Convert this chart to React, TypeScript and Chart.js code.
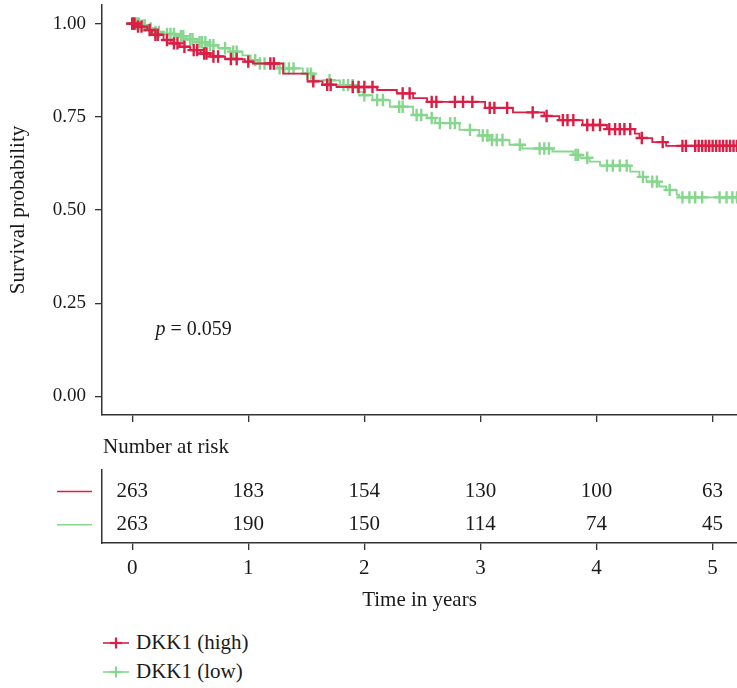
import React, { useEffect, useRef } from 'react';
import { Chart, registerables } from 'chart.js';
Chart.register(...registerables);

// ---------- data ----------
const groupLabels = ['DKK1 (high)', 'DKK1 (low)'];
const highColor = '#DC1E45';
const lowColor = '#86D78E';

const highEventTimes = [0.03, 0.13, 0.17, 0.27, 0.33, 0.41, 0.50, 0.59, 0.67, 0.80, 0.97, 1.04, 1.30, 1.51, 1.64, 1.76, 2.11, 2.28, 2.42, 2.54, 3.04, 3.28, 3.55, 3.68, 3.88, 4.09, 4.33, 4.37, 4.48, 4.60];
const highSurvival = [0.992, 0.983, 0.970, 0.956, 0.947, 0.938, 0.929, 0.920, 0.912, 0.905, 0.898, 0.893, 0.866, 0.845, 0.836, 0.830, 0.822, 0.813, 0.800, 0.790, 0.774, 0.762, 0.752, 0.741, 0.728, 0.717, 0.705, 0.693, 0.682, 0.672];
const highCensorTimes = [0.0, 0.01, 0.02, 0.05, 0.08, 0.15, 0.2, 0.22, 0.3, 0.36, 0.39, 0.45, 0.53, 0.56, 0.62, 0.64, 0.70, 0.74, 0.85, 0.9, 1.0, 1.19, 1.22, 1.56, 1.68, 1.71, 1.90, 1.95, 2.0, 2.07, 2.33, 2.39, 2.58, 2.62, 2.78, 2.85, 2.93, 3.08, 3.12, 3.23, 3.45, 3.57, 3.71, 3.75, 3.80, 3.92, 3.97, 4.03, 4.11, 4.16, 4.20, 4.24, 4.29, 4.39, 4.57, 4.74, 4.77, 4.85, 4.88, 4.91, 4.94, 4.97, 5.0, 5.03, 5.06, 5.09, 5.12, 5.15, 5.18, 5.21];
const highMaxTime = 5.21;

const lowEventTimes = [0.07, 0.14, 0.18, 0.27, 0.39, 0.47, 0.56, 0.65, 0.74, 0.84, 0.95, 1.02, 1.08, 1.25, 1.47, 1.57, 1.79, 1.94, 1.99, 2.07, 2.22, 2.42, 2.54, 2.61, 2.82, 2.99, 3.08, 3.25, 3.36, 3.62, 3.80, 3.86, 3.94, 4.03, 4.29, 4.37, 4.43, 4.54, 4.60, 4.69, 4.71];
const lowSurvival = [0.995, 0.987, 0.978, 0.972, 0.966, 0.958, 0.950, 0.942, 0.934, 0.925, 0.915, 0.902, 0.893, 0.880, 0.866, 0.848, 0.835, 0.817, 0.808, 0.795, 0.777, 0.755, 0.747, 0.733, 0.715, 0.700, 0.688, 0.675, 0.665, 0.657, 0.648, 0.640, 0.630, 0.619, 0.603, 0.589, 0.576, 0.563, 0.554, 0.541, 0.534];
const lowCensorTimes = [0, 0.01, 0.02, 0.03, 0.04, 0.05, 0.06, 0.09, 0.11, 0.16, 0.2, 0.23, 0.3, 0.33, 0.36, 0.42, 0.44, 0.5, 0.52, 0.58, 0.6, 0.63, 0.67, 0.7, 0.8, 0.87, 0.9, 1.06, 1.1, 1.14, 1.27, 1.31, 1.35, 1.39, 1.51, 1.54, 1.7, 1.82, 1.86, 1.9, 2.0, 2.11, 2.16, 2.3, 2.33, 2.45, 2.49, 2.58, 2.65, 2.74, 2.78, 2.91, 3.02, 3.06, 3.1, 3.14, 3.19, 3.34, 3.51, 3.55, 3.59, 3.82, 3.84, 3.92, 4.09, 4.14, 4.2, 4.26, 4.4, 4.48, 4.52, 4.63, 4.74, 4.8, 4.85, 4.91, 5.06, 5.12, 5.17, 5.21];
const lowMaxTime = 5.21;

const riskTimes = [0, 1, 2, 3, 4, 5];
const riskHigh = [263, 183, 154, 130, 100, 63];
const riskLow = [263, 190, 150, 114, 74, 45];

const xTicks = [0, 1, 2, 3, 4, 5];
const yTicks = [0, 0.25, 0.5, 0.75, 1];
const pValueText = '0.059';

// ---------- helpers ----------
const FONT = '"Liberation Serif", "Times New Roman", serif';
const TEXT = '#1a1a1a';
const AXIS = '#333333';
const TXT_SIZE = 21;

function survAt(times: number[], surv: number[], t: number) {
  let s = 1;
  for (let i = 0; i < times.length; i++) {
    if (times[i] <= t) s = surv[i];
  }
  return s;
}
function curve(times: number[], surv: number[], maxT: number) {
  const pts = [{ x: 0, y: 1 }];
  times.forEach((t, i) => pts.push({ x: t, y: surv[i] }));
  pts.push({ x: maxT, y: surv[surv.length - 1] });
  return pts;
}
function censors(times: number[], surv: number[], cens: number[]) {
  return cens.map((t) => ({ x: t, y: survAt(times, surv, t) }));
}

const X_MIN = -0.26;
const X_MAX = 5.21;
const LEFT_W = 102;

const pValuePlugin = {
  id: 'pvalue',
  afterDatasetsDraw(chart: any) {
    const { ctx, scales } = chart;
    const x = scales.x.getPixelForValue(0.2);
    const y = scales.y.getPixelForValue(0.18);
    ctx.save();
    ctx.fillStyle = TEXT;
    ctx.textBaseline = 'middle';
    ctx.textAlign = 'left';
    ctx.font = `italic 20px ${FONT}`;
    ctx.fillText('p', x, y);
    const w = ctx.measureText('p').width;
    ctx.font = `20px ${FONT}`;
    ctx.fillText(' = ' + pValueText, x + w, y);
    ctx.restore();
  },
};

const riskPlugin = {
  id: 'risktable',
  afterDatasetsDraw(chart: any) {
    const { ctx, scales, chartArea } = chart;
    ctx.save();
    ctx.fillStyle = TEXT;
    ctx.font = `${TXT_SIZE}px ${FONT}`;
    ctx.textBaseline = 'middle';
    ctx.textAlign = 'left';
    ctx.fillText('Number at risk', chartArea.left + 1, 17);
    ctx.textAlign = 'center';
    const rows = [riskHigh, riskLow];
    const cols = [highColor, lowColor];
    rows.forEach((row, r) => {
      const y = scales.y.getPixelForValue(r);
      row.forEach((n, i) => {
        ctx.fillText(String(n), scales.x.getPixelForValue(riskTimes[i]), y);
      });
      ctx.strokeStyle = cols[r];
      ctx.lineWidth = 1.5;
      ctx.beginPath();
      ctx.moveTo(57, y);
      ctx.lineTo(92, y);
      ctx.stroke();
    });
    ctx.restore();
  },
};

const xTickSetter = (s: any) => {
  s.ticks = xTicks.map((v) => ({ value: v }));
};
const fixX = (h: number) => (s: any) => {
  s.height = h;
  s.paddingLeft = 0;
  s.paddingRight = 0;
  s.paddingTop = 0;
  s.paddingBottom = 0;
};
const fixY = (s: any) => {
  s.width = LEFT_W;
  s.paddingTop = 0;
  s.paddingBottom = 0;
  s.paddingLeft = 0;
  s.paddingRight = 0;
};

export default function App() {
  const mainRef = useRef<HTMLCanvasElement>(null);
  const tableRef = useRef<HTMLCanvasElement>(null);

  useEffect(() => {
    const cross = {
      type: 'scatter',
      pointStyle: 'cross',
      pointRadius: 6.2,
      pointBorderWidth: 2.4,
      showLine: false,
    };
    const main = new Chart(mainRef.current!, {
      type: 'line',
      data: {
        datasets: [
          {
            label: groupLabels[0],
            data: curve(highEventTimes, highSurvival, highMaxTime),
            borderColor: highColor,
            borderWidth: 1.8,
            stepped: true,
            pointRadius: 0,
            fill: false,
          } as any,
          {
            ...cross,
            label: groupLabels[0] + ' censored',
            data: censors(highEventTimes, highSurvival, highCensorTimes),
            borderColor: highColor,
            backgroundColor: highColor,
          } as any,
          {
            label: groupLabels[1],
            data: curve(lowEventTimes, lowSurvival, lowMaxTime),
            borderColor: lowColor,
            borderWidth: 1.8,
            stepped: true,
            pointRadius: 0,
            fill: false,
          } as any,
          {
            ...cross,
            label: groupLabels[1] + ' censored',
            data: censors(lowEventTimes, lowSurvival, lowCensorTimes),
            borderColor: lowColor,
            backgroundColor: lowColor,
          } as any,
        ],
      },
      options: {
        animation: false,
        responsive: false,
        layout: { autoPadding: false, padding: { top: 5, left: 0, right: 0, bottom: 0 } },
        plugins: { legend: { display: false }, tooltip: { enabled: false } },
        scales: {
          x: {
            type: 'linear',
            min: X_MIN,
            max: X_MAX,
            afterBuildTicks: xTickSetter,
            ticks: { callback: () => '', autoSkip: false },
            grid: { drawOnChartArea: false, drawTicks: true, tickLength: 7, color: AXIS, lineWidth: 1.3 },
            border: { display: true, color: AXIS, width: 1.5 },
            afterFit: fixX(15),
          },
          y: {
            type: 'linear',
            min: -0.05,
            max: 1.05,
            afterBuildTicks: (s: any) => {
              s.ticks = yTicks.map((v) => ({ value: v }));
            },
            ticks: {
              callback: (v: any) => Number(v).toFixed(2),
              font: { family: FONT, size: 19 },
              color: TEXT,
              padding: 9,
              autoSkip: false,
            },
            grid: { drawOnChartArea: false, drawTicks: true, tickLength: 7, color: AXIS, lineWidth: 1.3 },
            border: { display: true, color: AXIS, width: 1.5 },
            title: {
              display: true,
              text: 'Survival probability',
              font: { family: FONT, size: TXT_SIZE },
              color: TEXT,
              padding: { top: 6, bottom: 0 },
            },
            afterFit: fixY,
          },
        },
      } as any,
      plugins: [pValuePlugin],
    });

    const table = new Chart(tableRef.current!, {
      type: 'scatter',
      data: { datasets: [] },
      options: {
        animation: false,
        responsive: false,
        layout: { autoPadding: false, padding: { top: 40, left: 0, right: 0, bottom: 0 } },
        plugins: { legend: { display: false }, tooltip: { enabled: false } },
        scales: {
          x: {
            type: 'linear',
            min: X_MIN,
            max: X_MAX,
            afterBuildTicks: xTickSetter,
            ticks: {
              callback: (v: any) => String(v),
              font: { family: FONT, size: TXT_SIZE },
              color: TEXT,
              padding: 6,
              maxRotation: 0,
              autoSkip: false,
            },
            grid: { drawOnChartArea: false, drawTicks: true, tickLength: 7, color: AXIS, lineWidth: 1.3 },
            border: { display: true, color: AXIS, width: 1.5 },
            title: {
              display: true,
              text: 'Time in years',
              font: { family: FONT, size: TXT_SIZE },
              color: TEXT,
              padding: { top: 0, bottom: 7 },
            },
            afterFit: fixX(77),
          },
          y: {
            type: 'linear',
            reverse: true,
            min: -0.65,
            max: 1.55,
            ticks: { display: false },
            grid: { display: false },
            border: { display: true, color: AXIS, width: 1.5 },
            afterFit: fixY,
          },
        },
      } as any,
      plugins: [riskPlugin],
    });

    return () => {
      main.destroy();
      table.destroy();
    };
  }, []);

  const legendItem = (label: string, color: string) => (
    <div style={{ display: 'flex', alignItems: 'center', height: 29 }}>
      <svg width={26} height={20} style={{ marginRight: 7 }}>
        <line x1={0} y1={10} x2={26} y2={10} stroke={color} strokeWidth={1.6} />
        <line x1={7} y1={10} x2={19} y2={10} stroke={color} strokeWidth={2.2} />
        <line x1={13} y1={4.5} x2={13} y2={15.5} stroke={color} strokeWidth={2.2} />
      </svg>
      <span style={{ fontFamily: FONT, fontSize: TXT_SIZE, color: TEXT }}>{label}</span>
    </div>
  );

  return (
    <div style={{ position: 'absolute', left: 0, top: 0, width: 737, height: 688, background: '#fff' }}>
      <canvas ref={mainRef} width={737} height={430} style={{ position: 'absolute', left: 0, top: 0, width: 737, height: 430 }} />
      <canvas ref={tableRef} width={737} height={190} style={{ position: 'absolute', left: 0, top: 430, width: 737, height: 190 }} />
      <div style={{ position: 'absolute', left: 103, top: 628 }}>
        {legendItem(groupLabels[0], highColor)}
        {legendItem(groupLabels[1], lowColor)}
      </div>
    </div>
  );
}
